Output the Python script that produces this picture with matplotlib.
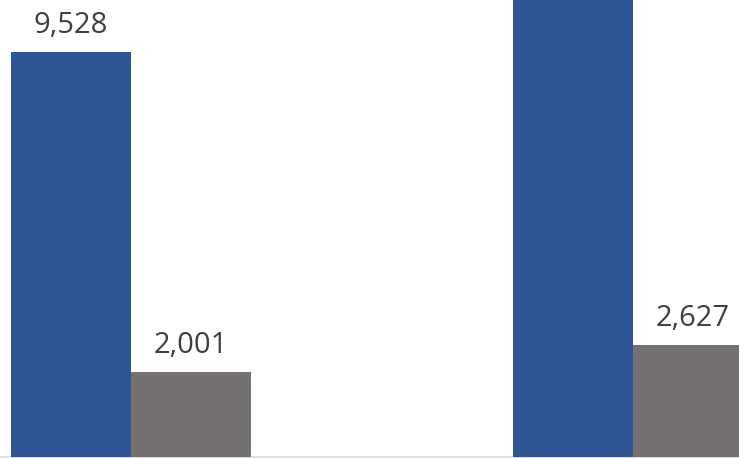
import matplotlib.pyplot as plt
import numpy as np

groups = ["A", "B"]
blue_vals = [9528, 11800]   # second bar runs off the top of the picture
gray_vals = [2001, 2627]
show_blue = [True, False]

blue = "#2E5596"
gray = "#767171"

fig = plt.figure(figsize=(7.39, 4.58), dpi=100)
ax = fig.add_axes([0, 0, 1, 1])

x = np.arange(len(groups))
w = 0.239
b1 = ax.bar(x - w / 2, blue_vals, w, color=blue)
b2 = ax.bar(x + w / 2, gray_vals, w, color=gray)

for rect, v, s in zip(b1, blue_vals, show_blue):
    if s:
        ax.annotate(f"{v:,}", (rect.get_x() + rect.get_width() / 2, v),
                    xytext=(0, 14), textcoords="offset points",
                    ha="center", va="baseline", fontsize=21,
                    family="Open Sans", color="#404040")
for rect, v in zip(b2, gray_vals):
    ax.annotate(f"{v:,}", (rect.get_x() + rect.get_width() / 2, v),
                xytext=(0, 14), textcoords="offset points",
                ha="center", va="baseline", fontsize=21,
                family="Open Sans", color="#404040")

ax.axhline(0, color="#d9d9d9", lw=1.2, zorder=0)

ax.set_xlim(-0.261, 1.211)
ax.set_ylim(-23.5, 10762)
ax.axis("off")

fig.savefig("out.png", dpi=100)
